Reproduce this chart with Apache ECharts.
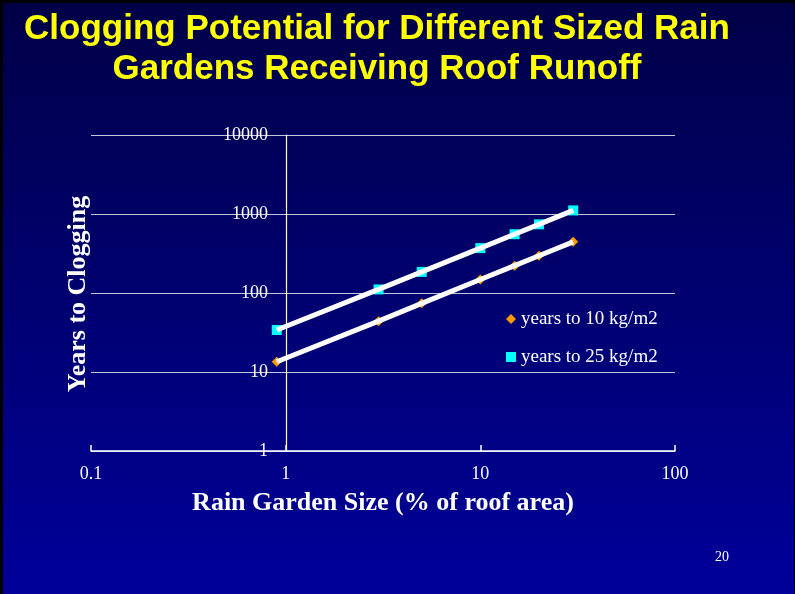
<!DOCTYPE html>
<html>
<head>
<meta charset="utf-8">
<script src="https://cdn.jsdelivr.net/npm/echarts@6/dist/echarts.min.js"></script>
<style>
  html, body { margin: 0; padding: 0; background: #000; }
  #chart { width: 795px; height: 594px; }
</style>
</head>
<body>
<div id="chart"></div>
<script>
// Rain garden size as % of contributing roof area
const sizes = [0.9, 3, 5, 10, 15, 20, 30];
// Years until the garden surface accumulates 10 kg/m2 of sediment
const years10 = [13.5, 44, 74, 148, 222, 296, 444];
// Years until the garden surface accumulates 25 kg/m2 of sediment
const years25 = [34, 111, 185, 370, 555, 740, 1110];

const seriesNames = ['years to 10 kg/m2', 'years to 25 kg/m2'];
const titleLines = ['Clogging Potential for Different Sized Rain', 'Gardens Receiving Roof Runoff'];
const xTitle = 'Rain Garden Size (% of roof area)';
const yTitle = 'Years to Clogging';
const pageNumber = '20';

const pairs = (xs, ys) => xs.map((x, i) => [x, ys[i]]);
const serif = '"Liberation Serif", "Times New Roman", serif';
const plainNumber = v => String(+v.toPrecision(6));

const chart = echarts.init(document.getElementById('chart'));
chart.setOption({
  backgroundColor: {
    type: 'linear', x: 0, y: 0, x2: 0, y2: 1,
    colorStops: [{ offset: 0, color: '#000046' }, { offset: 1, color: '#00009a' }]
  },
  animation: false,
  grid: { left: 91, right: 120, top: 135, bottom: 143 },
  xAxis: {
    type: 'log', logBase: 10, min: 0.1, max: 100,
    axisLine: { lineStyle: { color: '#ffffff', width: 1.5 } },
    axisTick: { inside: true, length: 6, lineStyle: { color: '#ffffff', width: 1.5 } },
    axisLabel: { color: '#ffffff', fontFamily: serif, fontSize: 18, margin: 14, formatter: plainNumber },
    splitLine: { show: false },
    minorTick: { show: false }
  },
  yAxis: {
    type: 'log', logBase: 10, min: 1, max: 10000,
    offset: -195,
    axisLine: { show: true, lineStyle: { color: '#ffffff', width: 1.2 } },
    axisTick: { show: false },
    axisLabel: { color: '#ffffff', fontFamily: serif, fontSize: 18, margin: 18, formatter: plainNumber },
    splitLine: { show: true, lineStyle: { color: '#c4c4dc', width: 1.2 } }
  },
  legend: {
    orient: 'vertical', left: 501, top: 304,
    itemWidth: 10, itemHeight: 10, itemGap: 18,
    textStyle: { color: '#ffffff', fontFamily: serif, fontSize: 19, lineHeight: 20 },
    data: [
      { name: seriesNames[0], icon: 'diamond' },
      { name: seriesNames[1], icon: 'rect' }
    ]
  },
  series: [
    {
      name: seriesNames[0], type: 'scatter', z: 2,
      symbol: 'diamond', symbolSize: 10,
      itemStyle: { color: '#ff9a00', opacity: 1 },
      data: pairs(sizes, years10)
    },
    {
      name: seriesNames[1], type: 'scatter', z: 2,
      symbol: 'rect', symbolSize: 10,
      itemStyle: { color: '#00ffff', opacity: 1 },
      data: pairs(sizes, years25)
    },
    {
      name: 'trend10', type: 'line', z: 3, showSymbol: false, silent: true,
      lineStyle: { color: '#ffffff', width: 5 },
      data: pairs(sizes, years10)
    },
    {
      name: 'trend25', type: 'line', z: 3, showSymbol: false, silent: true,
      lineStyle: { color: '#ffffff', width: 5 },
      data: pairs(sizes, years25)
    }
  ],
  graphic: [
    { type: 'rect', left: 0, top: 0, shape: { width: 795, height: 3 }, style: { fill: '#000' } },
    { type: 'rect', left: 0, top: 0, shape: { width: 3, height: 594 }, style: { fill: '#000' } },
    { type: 'rect', left: 794, top: 0, shape: { width: 1, height: 594 }, style: { fill: '#000' } },
    {
      type: 'text', x: 377, y: 29,
      style: { text: titleLines[0], fill: '#ffff00', font: 'bold 35px "Liberation Sans", Arial, sans-serif', align: 'center', verticalAlign: 'middle' }
    },
    {
      type: 'text', x: 377, y: 69,
      style: { text: titleLines[1], fill: '#ffff00', font: 'bold 35px "Liberation Sans", Arial, sans-serif', align: 'center', verticalAlign: 'middle' }
    },
    {
      type: 'text', x: 383, y: 503,
      style: { text: xTitle, fill: '#ffffff', font: 'bold 26px ' + serif, align: 'center', verticalAlign: 'middle' }
    },
    {
      type: 'text', x: 78, y: 294, rotation: Math.PI / 2,
      style: { text: yTitle, fill: '#ffffff', font: 'bold 26px ' + serif, align: 'center', verticalAlign: 'middle' }
    },
    {
      type: 'text', x: 722, y: 557,
      style: { text: pageNumber, fill: '#ffffff', font: '14px ' + serif, align: 'center', verticalAlign: 'middle' }
    }
  ]
});
</script>
</body>
</html>
